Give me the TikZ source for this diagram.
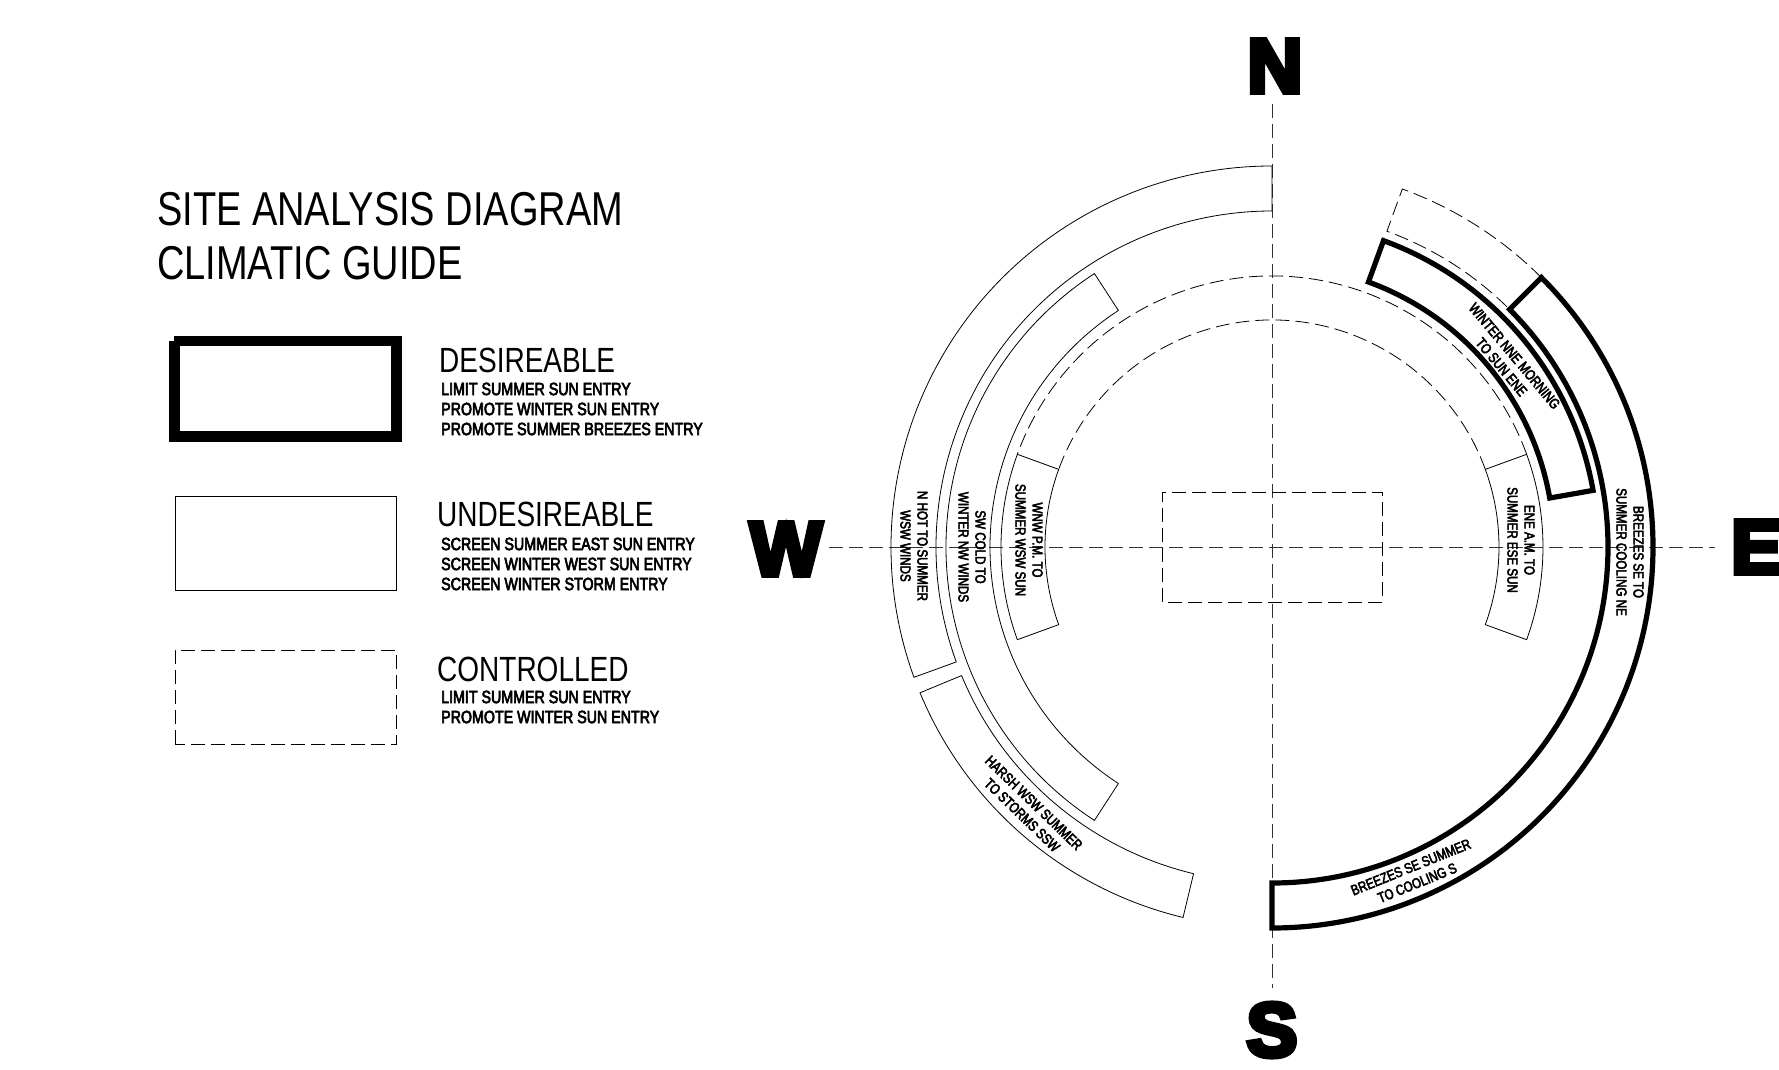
\documentclass[tikz,border=0pt]{standalone}
\usepackage{fontspec}
\newfontfamily\plainfont[FakeStretch=0.8]{Liberation Sans}
\newfontfamily\labelfont[FakeStretch=0.8,FakeBold=3.5]{Liberation Sans}
\newfontfamily\compassfont[FakeBold=7]{Liberation Sans Bold}
\tikzset{
  desirable/.style={draw=black, line width=5.2pt},
  undesirable/.style={draw=black, line width=0.8pt},
  controlled/.style={draw=black, line width=0.8pt, dash pattern=on 14pt off 6pt},
  axisline/.style={draw=black!80, line width=0.8pt, dash pattern=on 14pt off 6pt},
  compass/.style={inner sep=0pt, font=\compassfont\fontsize{76}{76}\selectfont},
  titletext/.style={inner sep=0pt, anchor=base west, font=\plainfont\fontsize{47.5}{54}\selectfont},
  headtext/.style={inner sep=0pt, anchor=base west, font=\plainfont\fontsize{35}{40}\selectfont},
  smalltext/.style={inner sep=0pt, anchor=west, align=left, font=\labelfont\fontsize{17.8}{20}\selectfont},
  ringtext/.style={inner sep=0pt, align=center, font=\labelfont\fontsize{14.5}{17}\selectfont}
}

\begin{document}
\begin{tikzpicture}[x=1pt,y=1pt]
    \useasboundingbox (-1272,-523) rectangle (507,547);

    % compass
    \node[compass] (N) at (3,481) {N};
    \node[compass] (S) at (0,-483) {S};
    \node[compass] (W) at (-486,-2) {W};
    \node[compass, anchor=west] (E) at (459,0) {E};
    \coordinate (axisN) at (0,443);
    \coordinate (axisS) at (0,-441);
    \coordinate (axisW) at (-443,0);
    \coordinate (axisE) at (443,0);
    \draw[axisline] (axisN) -- (axisS);
    \draw[axisline] (axisW) -- (axisE);
    \draw[controlled] (-110,-55) rectangle (110,55);

    % outer ring
    \draw[undesirable] (90:381pt) arc (90:200:381pt) -- (200:336pt) arc (200:90:336pt) -- cycle;
    \draw[undesirable] (202.5:381pt) arc (202.5:256.5:381pt) -- (256.5:336pt) arc (256.5:202.5:336pt) -- cycle;
    \draw[controlled] (45:381pt) arc (45:70:381pt) -- (70:336pt) arc (70:45:336pt);
    \draw[desirable] (45:381pt) arc (45:-90:381pt) -- (-90:336pt) arc (-90:45:336pt) -- cycle;

    % middle ring
    \draw[undesirable] (123:326pt) arc (123:237:326pt) -- (237:282pt) arc (237:123:282pt) -- cycle;
    \draw[desirable] (70:326pt) arc (70:10:326pt) -- (10:282pt) arc (10:70:282pt) -- cycle;

    % inner ring
    \draw[controlled] (20:271pt) arc (20:160:271pt);
    \draw[controlled] (20:227pt) arc (20:160:227pt);
    \draw[undesirable] (20:271pt) arc (20:-20:271pt) -- (-20:227pt) arc (-20:20:227pt) -- cycle;
    \draw[undesirable] (160:271pt) arc (160:200:271pt) -- (200:227pt) arc (200:160:227pt) -- cycle;

    % ring labels
    \node[ringtext, rotate=-90] (nhot) at (-358,1) {N HOT TO SUMMER\\WSW WINDS};
    \node[ringtext, rotate=-90] (swcold) at (-300,0) {SW COLD TO\\WINTER NW WINDS};
    \node[ringtext, rotate=-90] (wnw) at (-243,7) {WNW P.M. TO\\SUMMER WSW SUN};
    \node[ringtext, rotate=-44] (harsh) at (-244,-262) {HARSH WSW SUMMER\\TO STORMS SSW};
    \node[ringtext, rotate=-90] (ene) at (249,7) {ENE A.M. TO\\SUMMER ESE SUN};
    \node[ringtext, rotate=-90] (breezesne) at (358,-5) {BREEZES SE TO\\SUMMER COOLING NE};
    \node[ringtext, rotate=-50] (winter) at (236,185.5) {WINTER NNE MORNING\\TO SUN ENE};
    \node[ringtext, rotate=22] (breezess) at (142,-328) {BREEZES SE SUMMER\\TO COOLING S};

    % title
    \node[titletext] (title) at (-1115,321) {SITE ANALYSIS DIAGRAM};
    \node[titletext] (guide) at (-1115,267) {CLIMATIC GUIDE};

    % legend
    \draw[draw=black, line width=10.5pt] (-1097.5,206) -- (-1097.5,110.5) -- (-875.5,110.5) -- (-875.5,206) -- (-1097.5,206);
    \node[headtext] (desire) at (-833,174) {DESIREABLE};
    \node[smalltext] (desirelist) at (-831,138) {LIMIT SUMMER SUN ENTRY\\PROMOTE WINTER SUN ENTRY\\PROMOTE SUMMER BREEZES ENTRY};

    \draw[undesirable] (-1097,-43) rectangle (-876,51);
    \node[headtext] (undesire) at (-835,20) {UNDESIREABLE};
    \node[smalltext] (undesirelist) at (-831,-17) {SCREEN SUMMER EAST SUN ENTRY\\SCREEN WINTER WEST SUN ENTRY\\SCREEN WINTER STORM ENTRY};

    \draw[controlled] (-1097,-197) rectangle (-876,-103);
    \node[headtext] (control) at (-835,-134) {CONTROLLED};
    \node[smalltext] (controllist) at (-831,-160) {LIMIT SUMMER SUN ENTRY\\PROMOTE WINTER SUN ENTRY};
  \end{tikzpicture}
\end{document}
